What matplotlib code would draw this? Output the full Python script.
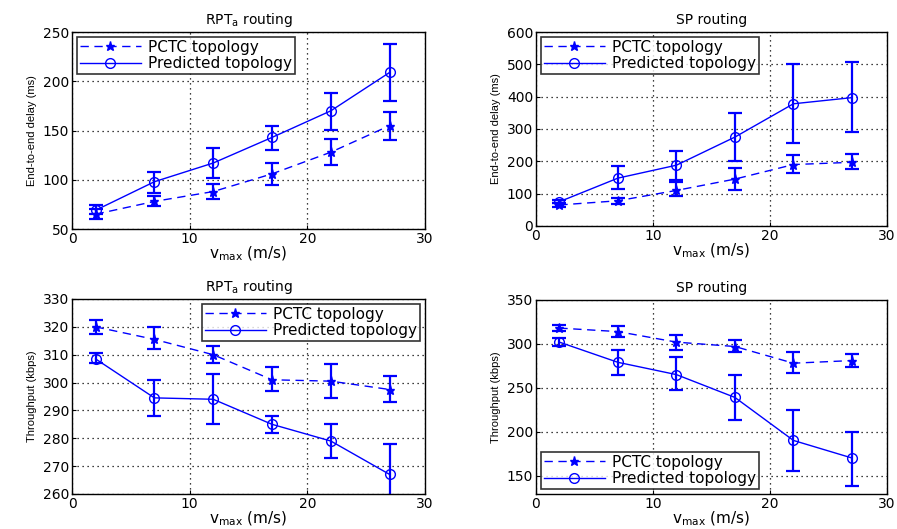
import matplotlib
matplotlib.use("Agg")
import matplotlib.pyplot as plt
import numpy as np

plt.rcParams['font.family'] = ['DejaVu Sans']
plt.rcParams['mathtext.fontset'] = 'dejavusans'

vmax = [2, 7, 12, 17, 22, 27]

# Top-left: RPTa delay
rpt_delay_pctc = [65, 78, 88, 106, 128, 155]
rpt_delay_pctc_lo = [60, 73, 80, 95, 115, 140]
rpt_delay_pctc_hi = [70, 84, 96, 117, 141, 169]
rpt_delay_pred = [69, 98, 117, 143, 170, 209]
rpt_delay_pred_lo = [65, 87, 102, 130, 151, 180]
rpt_delay_pred_hi = [74, 108, 132, 155, 188, 238]

# Top-right: SP delay
sp_delay_pctc = [65, 78, 110, 145, 190, 197]
sp_delay_pctc_lo = [60, 68, 92, 112, 163, 175]
sp_delay_pctc_hi = [70, 88, 135, 178, 220, 222]
sp_delay_pred = [75, 148, 188, 275, 378, 397]
sp_delay_pred_lo = [70, 113, 143, 200, 258, 290]
sp_delay_pred_hi = [80, 185, 232, 350, 500, 508]

# Bottom-left: RPTa throughput
rpt_thr_pctc = [320, 315.5, 310, 301, 300.5, 297.5]
rpt_thr_pctc_lo = [317.5, 312, 307, 297, 294.5, 293]
rpt_thr_pctc_hi = [322.5, 320, 313, 305.5, 306.5, 302.5]
rpt_thr_pred = [308.5, 294.5, 294, 285, 279, 267]
rpt_thr_pred_lo = [307, 288, 285, 282, 273, 258]
rpt_thr_pred_hi = [310.5, 301, 303, 288, 285, 278]

# Bottom-right: SP throughput
sp_thr_pctc = [318, 314, 302, 297, 278, 281]
sp_thr_pctc_lo = [315, 308, 293, 291, 267, 274]
sp_thr_pctc_hi = [321, 320, 310, 304, 291, 289]
sp_thr_pred = [302, 279, 265, 239, 190, 170]
sp_thr_pred_lo = [298, 265, 247, 213, 155, 138]
sp_thr_pred_hi = [307, 293, 285, 264, 225, 200]

fig = plt.figure(figsize=(8.97, 5.29), dpi=100)

positions = [
    [0.0803, 0.5671, 0.3935, 0.3724],
    [0.5975, 0.5728, 0.3914, 0.3667],
    [0.0803, 0.0662, 0.3935, 0.3686],
    [0.5975, 0.0662, 0.3914, 0.3667],
]

panels = [
    ("RPT$_{\\mathregular{a}}$ routing", "End-to-end delay (ms)",
     (rpt_delay_pctc, rpt_delay_pctc_lo, rpt_delay_pctc_hi),
     (rpt_delay_pred, rpt_delay_pred_lo, rpt_delay_pred_hi),
     (50, 250), [50, 100, 150, 200, 250], 'upper left'),
    ("SP routing", "End-to-end delay (ms)",
     (sp_delay_pctc, sp_delay_pctc_lo, sp_delay_pctc_hi),
     (sp_delay_pred, sp_delay_pred_lo, sp_delay_pred_hi),
     (0, 600), [0, 100, 200, 300, 400, 500, 600], 'upper left'),
    ("RPT$_{\\mathregular{a}}$ routing", "Throughput (kbps)",
     (rpt_thr_pctc, rpt_thr_pctc_lo, rpt_thr_pctc_hi),
     (rpt_thr_pred, rpt_thr_pred_lo, rpt_thr_pred_hi),
     (260, 330), [260, 270, 280, 290, 300, 310, 320, 330], 'upper right'),
    ("SP routing", "Throughput (kbps)",
     (sp_thr_pctc, sp_thr_pctc_lo, sp_thr_pctc_hi),
     (sp_thr_pred, sp_thr_pred_lo, sp_thr_pred_hi),
     (129, 350), [150, 200, 250, 300, 350], 'lower left'),
]

blue = '#0000ff'
for pos, (title, ylab, pctc, pred, ylim, yticks, loc) in zip(positions, panels):
    ax = fig.add_axes(pos)
    for (vals, lo, hi), ls, mk, lab, ms in [
        (pctc, '--', '*', 'PCTC topology', 6.5),
        (pred, '-', 'o', 'Predicted topology', 7),
    ]:
        v = np.array(vals)
        yerr = [v - np.array(lo), np.array(hi) - v]
        ax.errorbar(vmax, v, yerr=yerr, color=blue, ecolor=blue,
                    linestyle='none', elinewidth=1.6, capsize=5, capthick=1.6)
        ax.plot(vmax, v, linestyle=ls, dashes=(6, 4) if ls == '--' else (None, None),
                color=blue, lw=1, marker=mk, ms=ms,
                mfc=blue if mk == '*' else 'none', mec=blue, label=lab)
    ax.set_xlim(0, 30)
    ax.set_ylim(*ylim)
    ax.set_xticks([0, 10, 20, 30])
    ax.set_yticks(yticks)
    ax.grid(True, linestyle=(0, (1, 3)), color='black', linewidth=0.9)
    ax.tick_params(direction='in', labelsize=10, length=3, pad=2)
    for s in ax.spines.values():
        s.set_linewidth(1.0)
    ax.set_title(title, fontsize=10, pad=6)
    ax.set_xlabel("v$_{\\mathregular{max}}$ (m/s)", fontsize=11, labelpad=-1)
    ax.set_ylabel(ylab, fontsize=8, labelpad=4, family='Liberation Sans')
    leg = ax.legend(loc=loc, fontsize=11, frameon=True, fancybox=False,
                    edgecolor='black', borderpad=0.2, labelspacing=0.1,
                    handlelength=4.0, handletextpad=0.5, borderaxespad=0.3)
    leg.get_frame().set_linewidth(1.2)

fig.savefig("out.png", dpi=100)
